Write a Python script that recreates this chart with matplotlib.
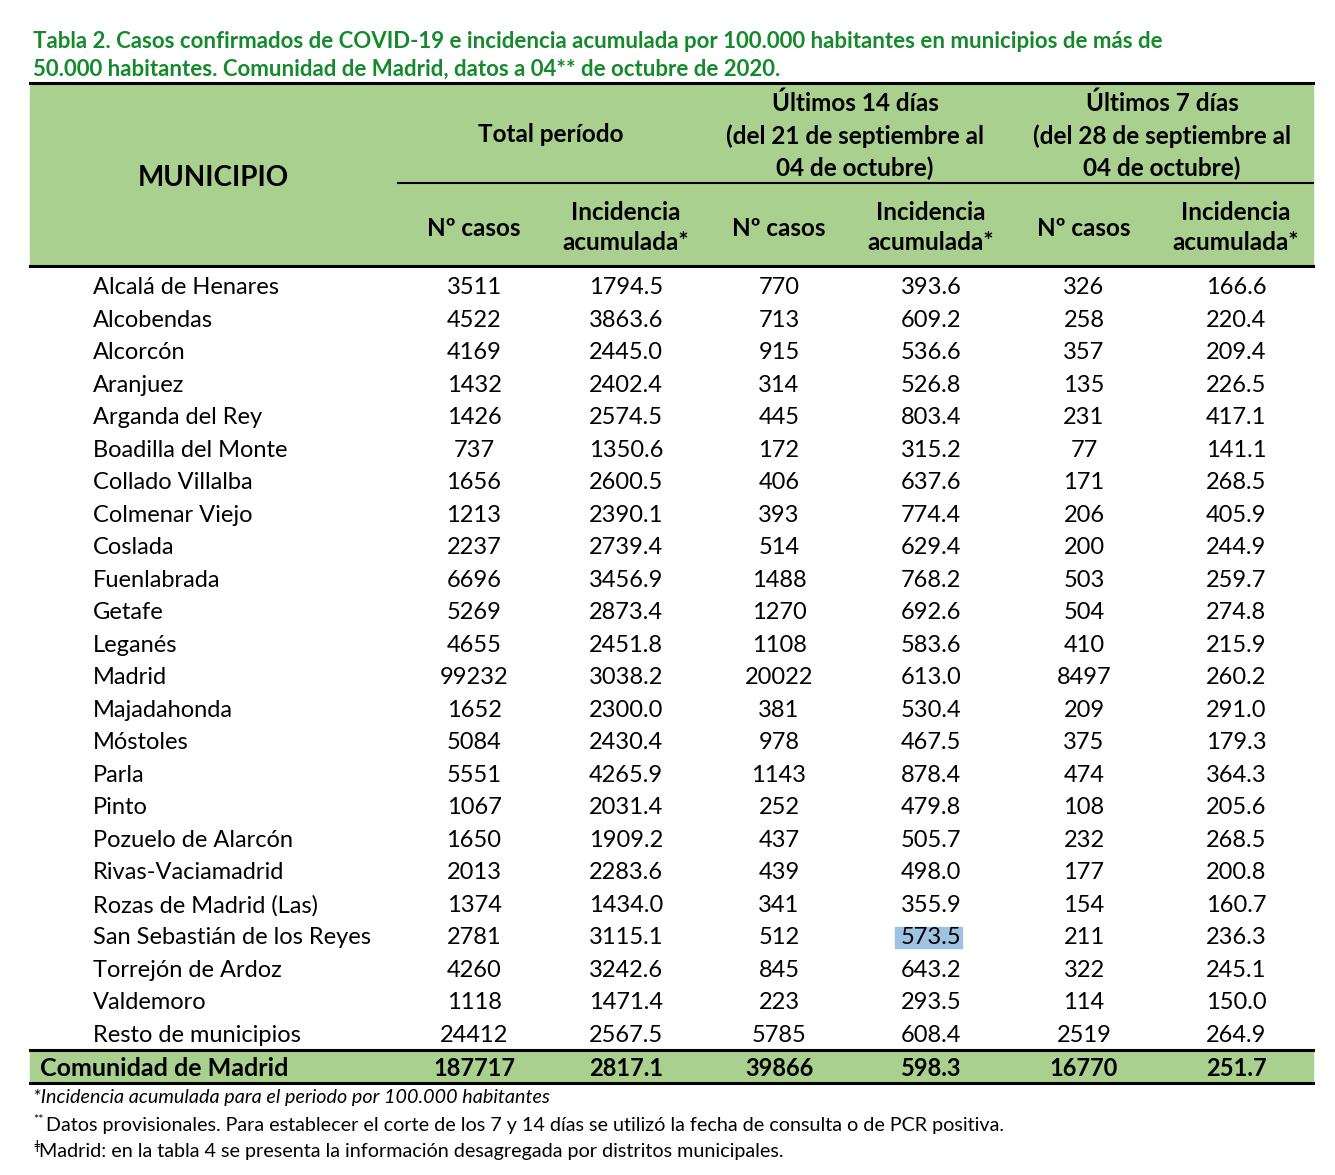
import matplotlib.pyplot as plt
from matplotlib.patches import Rectangle

municipios = ['Alcalá de Henares', 'Alcobendas', 'Alcorcón', 'Aranjuez', 'Arganda del Rey',
              'Boadilla del Monte', 'Collado Villalba', 'Colmenar Viejo', 'Coslada', 'Fuenlabrada',
              'Getafe', 'Leganés', 'Madrid', 'Majadahonda', 'Móstoles', 'Parla', 'Pinto',
              'Pozuelo de Alarcón', 'Rivas-Vaciamadrid', 'Rozas de Madrid (Las)',
              'San Sebastián de los Reyes', 'Torrejón de Ardoz', 'Valdemoro', 'Resto de municipios']
casos_total = [3511, 4522, 4169, 1432, 1426, 737, 1656, 1213, 2237, 6696, 5269, 4655, 99232,
               1652, 5084, 5551, 1067, 1650, 2013, 1374, 2781, 4260, 1118, 24412]
ia_total = [1794.5, 3863.6, 2445.0, 2402.4, 2574.5, 1350.6, 2600.5, 2390.1, 2739.4, 3456.9,
            2873.4, 2451.8, 3038.2, 2300.0, 2430.4, 4265.9, 2031.4, 1909.2, 2283.6, 1434.0,
            3115.1, 3242.6, 1471.4, 2567.5]
casos_14 = [770, 713, 915, 314, 445, 172, 406, 393, 514, 1488, 1270, 1108, 20022, 381, 978,
            1143, 252, 437, 439, 341, 512, 845, 223, 5785]
ia_14 = [393.6, 609.2, 536.6, 526.8, 803.4, 315.2, 637.6, 774.4, 629.4, 768.2, 692.6, 583.6,
         613.0, 530.4, 467.5, 878.4, 479.8, 505.7, 498.0, 355.9, 573.5, 643.2, 293.5, 608.4]
casos_7 = [326, 258, 357, 135, 231, 77, 171, 206, 200, 503, 504, 410, 8497, 209, 375, 474,
           108, 232, 177, 154, 211, 322, 114, 2519]
ia_7 = [166.6, 220.4, 209.4, 226.5, 417.1, 141.1, 268.5, 405.9, 244.9, 259.7, 274.8, 215.9,
        260.2, 291.0, 179.3, 364.3, 205.6, 268.5, 200.8, 160.7, 236.3, 245.1, 150.0, 264.9]
total_row = ['187717', '2817.1', '39866', '598.3', '16770', '251.7']

GREEN = '#A9D08E'
TITLE = '#15892C'
FONT = 'Lato'

fig = plt.figure(figsize=(13.35, 11.75), dpi=100)
ax = fig.add_axes([0, 0, 1, 1])
ax.set_xlim(0, 1335)
ax.set_ylim(1175, 0)
ax.axis('off')

# title
ax.text(33, 41, 'Tabla 2. Casos confirmados de COVID-19 e incidencia acumulada por 100.000 habitantes en municipios de más de',
        color=TITLE, fontsize=16.0, fontweight='bold', family=FONT, va='center')
ax.text(33, 69, '50.000 habitantes. Comunidad de Madrid, datos a 04** de octubre de 2020.',
        color=TITLE, fontsize=16.0, fontweight='bold', family=FONT, va='center')

# header block
ax.add_patch(Rectangle((30, 83), 1283, 183, color=GREEN, zorder=0))
ax.plot([30, 1313], [83, 83], color='black', lw=2.2)
ax.plot([30, 1313], [266, 266], color='black', lw=2.2)
ax.plot([398, 1313], [183, 183], color='black', lw=1.5)

hdr = dict(fontsize=17.5, fontweight='bold', family=FONT, ha='center', va='center')
ax.text(213, 178, 'MUNICIPIO', **dict(hdr, fontsize=20))
ax.text(551, 135, 'Total período', **hdr)
for x, l2 in [(855, '(del 21 de septiembre al'), (1162, '(del 28 de septiembre al')]:
    ax.text(x, 103, 'Últimos 14 días' if x < 1000 else 'Últimos 7 días', **hdr)
    ax.text(x, 136, l2, **hdr)
    ax.text(x, 168, '04 de octubre)', **hdr)

col_x = [474, 626, 779, 931, 1084, 1236]
for i, x in enumerate(col_x):
    if i % 2 == 0:
        ax.text(x, 228, 'Nº casos', **hdr)
    else:
        ax.text(x, 212, 'Incidencia', **hdr)
        ax.text(x, 243, 'acumulada*', **hdr)

# body rows
y0, step = 287.5, 32.52
cell = dict(fontsize=17, family=FONT, va='center')
for r, name in enumerate(municipios):
    y = y0 + r * step
    ax.text(93, y, name, ha='left', **cell)
    vals = [str(casos_total[r]), f'{ia_total[r]:.1f}', str(casos_14[r]),
            f'{ia_14[r]:.1f}', str(casos_7[r]), f'{ia_7[r]:.1f}']
    for x, v in zip(col_x, vals):
        ax.text(x, y, v, ha='center', **cell)
        if name == 'San Sebastián de los Reyes' and v == '573.5':
            ax.add_patch(Rectangle((895, y - 11), 67, 21, color='#9DC3E0', zorder=0))

# total row
ax.add_patch(Rectangle((30, 1050), 1283, 33, color=GREEN, zorder=0))
ax.plot([30, 1313], [1050, 1050], color='black', lw=2.2)
ax.plot([30, 1313], [1083, 1083], color='black', lw=2.2)
ax.text(40, 1068, 'Comunidad de Madrid', ha='left', fontweight='bold', **dict(cell, fontsize=18))
for x, v in zip(col_x, total_row):
    ax.text(x, 1068, v, ha='center', fontweight='bold', **cell)

# footnotes
fn = dict(fontsize=14.2, family=FONT, va='center', ha='left')
ax.text(33, 1098, '*Incidencia acumulada para el periodo por 100.000 habitantes', style='italic', **fn)
ax.text(33, 1120, '**', **dict(fn, fontsize=9))
ax.text(46, 1125, 'Datos provisionales. Para establecer el corte de los 7 y 14 días se utilizó la fecha de consulta o de PCR positiva.', **fn)
ax.text(33, 1146, 'ǂ', **dict(fn, fontsize=9))
ax.text(39, 1151, 'Madrid: en la tabla 4 se presenta la información desagregada por distritos municipales.', **fn)

plt.savefig('out.png', dpi=100)
